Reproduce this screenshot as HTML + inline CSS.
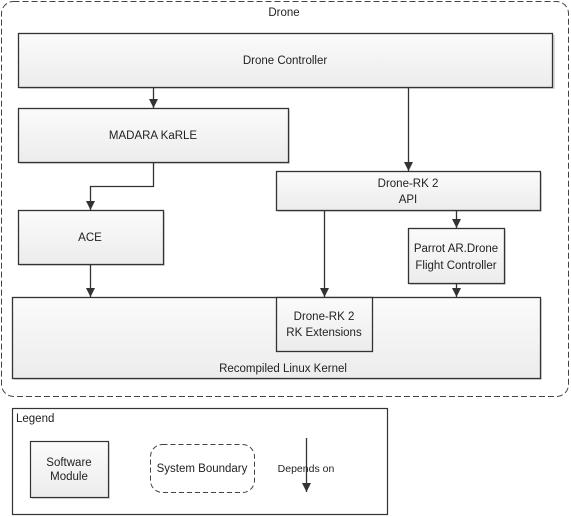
<!DOCTYPE html>
<html><head><meta charset="utf-8"><style>
html,body{margin:0;padding:0;background:#fff;}
svg{display:block;}
text{font-family:"Liberation Sans",sans-serif;font-size:11.5px;fill:#222;}
</style></head><body>
<svg width="571" height="517" viewBox="0 0 571 517" xmlns="http://www.w3.org/2000/svg">
<defs>
<linearGradient id="g" x1="0" y1="0" x2="0" y2="1"><stop offset="0" stop-color="#fbfbfb"/><stop offset="1" stop-color="#ececec"/></linearGradient>
<marker id="a" viewBox="0 0 10 10" refX="10" refY="5" markerWidth="9" markerHeight="9" markerUnits="userSpaceOnUse" orient="auto"><path d="M0,0 L10,5 L0,10 z" fill="#333"/></marker>
</defs>
<rect x="1.5" y="1.5" width="567" height="395" rx="12" fill="none" stroke="#444" stroke-dasharray="6,3"/>
<text x="284" y="16" text-anchor="middle">Drone</text>
<g stroke="#333" stroke-width="1.3">
<rect x="20" y="35" width="535" height="54" fill="#ddd" stroke="none"/>
<rect x="18.5" y="33.5" width="534" height="54" fill="url(#g)"/>
<rect x="20" y="110" width="270" height="54" fill="#ddd" stroke="none"/>
<rect x="18.5" y="108.5" width="270" height="54" fill="url(#g)"/>
<rect x="20" y="212" width="145" height="54" fill="#ddd" stroke="none"/>
<rect x="18.5" y="210.5" width="145" height="54" fill="url(#g)"/>
<rect x="278" y="173" width="264" height="39" fill="#ddd" stroke="none"/>
<rect x="276.5" y="171.5" width="264" height="39" fill="url(#g)"/>
<rect x="410" y="230" width="96" height="55" fill="#ddd" stroke="none"/>
<rect x="408.5" y="228.5" width="96" height="55" fill="url(#g)"/>
<rect x="14" y="299" width="528" height="81" fill="#ddd" stroke="none"/>
<rect x="12.5" y="297.5" width="528" height="81" fill="url(#g)"/>
<rect x="276.5" y="297.5" width="96" height="54" fill="url(#g)"/>
<line x1="153.5" y1="88" x2="153.5" y2="108" marker-end="url(#a)"/>
<line x1="408.5" y1="88" x2="408.5" y2="171" marker-end="url(#a)"/>
<polyline points="153.5,163 153.5,186.5 90.5,186.5 90.5,210" fill="none" marker-end="url(#a)"/>
<line x1="90.5" y1="265" x2="90.5" y2="297" marker-end="url(#a)"/>
<line x1="324.5" y1="211" x2="324.5" y2="297" marker-end="url(#a)"/>
<line x1="456.5" y1="211" x2="456.5" y2="228" marker-end="url(#a)"/>
<line x1="456.5" y1="284" x2="456.5" y2="297" marker-end="url(#a)"/>
</g>
<text x="285" y="64" text-anchor="middle">Drone Controller</text>
<text x="153" y="139" text-anchor="middle">MADARA KaRLE</text>
<text x="90" y="241" text-anchor="middle">ACE</text>
<text x="408" y="187" text-anchor="middle">Drone-RK 2</text>
<text x="408" y="203" text-anchor="middle">API</text>
<text x="456" y="252" text-anchor="middle">Parrot AR.Drone</text>
<text x="456" y="269" text-anchor="middle">Flight Controller</text>
<text x="324" y="320" text-anchor="middle">Drone-RK 2</text>
<text x="324" y="336" text-anchor="middle">RK Extensions</text>
<text x="283" y="372" text-anchor="middle">Recompiled Linux Kernel</text>
<rect x="12.5" y="408.5" width="375" height="106" fill="#fff" stroke="#333" stroke-width="1.2"/>
<text x="16" y="422">Legend</text>
<rect x="32" y="443" width="78" height="56" fill="#ddd"/>
<rect x="30.5" y="441.5" width="78" height="56" fill="url(#g)" stroke="#333" stroke-width="1.2"/>
<text x="69" y="466" text-anchor="middle">Software</text>
<text x="69" y="480" text-anchor="middle">Module</text>
<rect x="150.5" y="444.5" width="104" height="48" rx="12" fill="none" stroke="#444" stroke-dasharray="5,3"/>
<text x="202" y="472" text-anchor="middle">System Boundary</text>
<line x1="306.5" y1="438" x2="306.5" y2="492" stroke="#333" stroke-width="1.3" marker-end="url(#a)"/>
<text x="306" y="472" text-anchor="middle" style="font-size:10.5px">Depends on</text>
</svg>
</body></html>
